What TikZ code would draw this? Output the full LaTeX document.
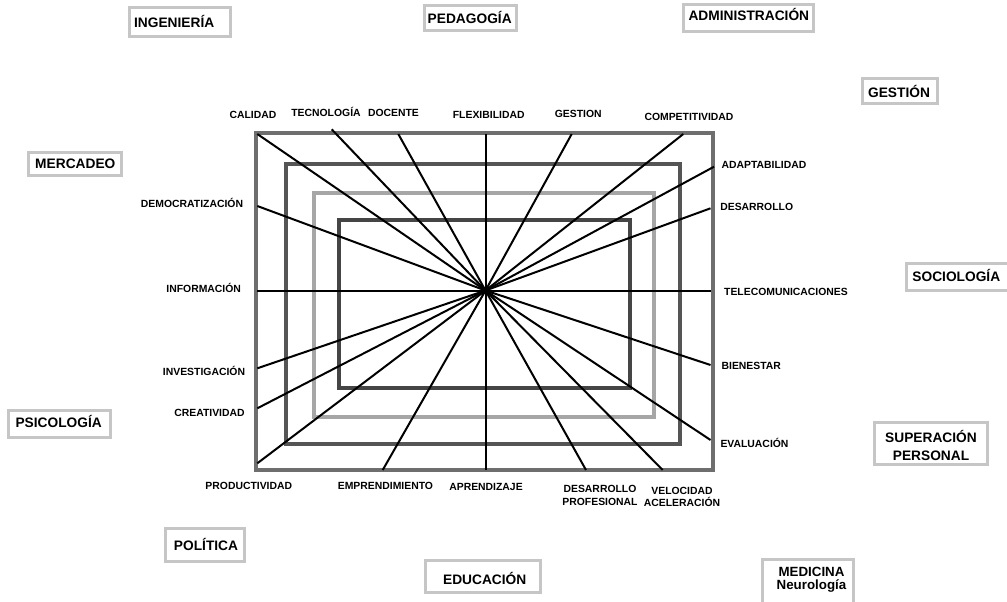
\documentclass[tikz,border=0pt]{standalone}
\usepackage{fontspec}
\setmainfont{Liberation Sans}
\definecolor{frameA}{HTML}{6E6E6E}
\definecolor{frameB}{HTML}{555555}
\definecolor{frameC}{HTML}{A6A6A6}
\definecolor{frameD}{HTML}{454545}
\definecolor{fieldgray}{HTML}{C6C6C6}
\begin{document}
\begin{tikzpicture}[x=0.75pt,y=-0.75pt,
  frame/.style={line width=3pt},
  ray/.style={line width=1.5pt, black},
  lbl/.style={font=\bfseries\fontsize{7.8}{9.3}\selectfont, inner sep=0pt, align=center},
  field/.style={draw=fieldgray, line width=2.25pt},
  fieldtext/.style={font=\bfseries\fontsize{10.3}{12.8}\selectfont, inner sep=0pt, align=center}]
\clip (0,0) rectangle (1007,601);
\fill[white] (0,0) rectangle (1007,601);

% nested frames
\draw[frame, frameA] (255.7,132.7) rectangle (712.5,470);
\draw[frame, frameB] (286,163.5) rectangle (680,444);
\draw[frame, frameC] (313.5,192.7) rectangle (653.5,416.5);
\draw[frame, frameD] (338.7,219.5) rectangle (629.5,387.5);

% hub and ray ends
\coordinate (hub) at (485.5,290.5);
\coordinate (r1) at (257.3,134);
\coordinate (r2) at (331.7,129.3);
\coordinate (r3) at (398.3,134);
\coordinate (r4) at (485.5,134);
\coordinate (r5) at (571.7,134);
\coordinate (r6) at (683.3,134);
\coordinate (r7) at (714,166.7);
\coordinate (r8) at (710.5,208.3);
\coordinate (r9) at (710.5,290.5);
\coordinate (r10) at (710.5,365);
\coordinate (r11) at (710.5,440);
\coordinate (r12) at (662.7,470);
\coordinate (r13) at (586,470);
\coordinate (r14) at (485.5,470);
\coordinate (r15) at (382.7,470);
\coordinate (r16) at (257.3,463.3);
\coordinate (r17) at (257.3,408.3);
\coordinate (r18) at (257.3,368.3);
\coordinate (r19) at (257.3,290.5);
\coordinate (r20) at (257.3,206);
\foreach \i in {1,...,20} \draw[ray] (hub) -- (r\i);

% ray labels
\node[lbl, anchor=base] (calidad) at (253,118.7) {CALIDAD};
\node[lbl, anchor=base] (tecnologia) at (326,116.4) {TECNOLOGÍA};
\node[lbl, anchor=base] (docente) at (393.5,116.7) {DOCENTE};
\node[lbl, anchor=base] (flexibilidad) at (488.7,118.7) {FLEXIBILIDAD};
\node[lbl, anchor=base] (gestion) at (578.3,117.2) {GESTION};
\node[lbl, anchor=base] (competitividad) at (689,120.2) {COMPETITIVIDAD};
\node[lbl, anchor=base] (adaptabilidad) at (764,168.7) {ADAPTABILIDAD};
\node[lbl, anchor=base] (desarrollo) at (756.7,210.4) {DESARROLLO};
\node[lbl, anchor=base] (telecom) at (786,295.4) {TELECOMUNICACIONES};
\node[lbl, anchor=base] (bienestar) at (751.3,369.7) {BIENESTAR};
\node[lbl, anchor=base] (evaluacion) at (754.5,447) {EVALUACIÓN};
\node[lbl, anchor=base] (democratizacion) at (192,207.7) {DEMOCRATIZACIÓN};
\node[lbl, anchor=base] (informacion) at (203.7,292) {INFORMACIÓN};
\node[lbl, anchor=base] (investigacion) at (204,375.4) {INVESTIGACIÓN};
\node[lbl, anchor=base] (creatividad) at (209.5,416) {CREATIVIDAD};
\node[lbl, anchor=base] (productividad) at (248.8,489.4) {PRODUCTIVIDAD};
\node[lbl, anchor=base east] (emprendimiento) at (433.3,489) {EMPRENDIMIENTO};
\node[lbl, anchor=base] (aprendizaje) at (486,490.4) {APRENDIZAJE};
\node[lbl] (desprof) at (600,495.5) {DESARROLLO\\PROFESIONAL};
\node[lbl] (velocidad) at (682,497) {VELOCIDAD\\ACELERACIÓN};

% surrounding fields
\draw[field] (129.8,7.5) rectangle (230.2,36.8);
\node[fieldtext, anchor=base] (ingenieria) at (174.2,27.4) {INGENIERÍA};
\draw[field] (424.2,5.5) rectangle (516.8,30.8);
\node[fieldtext, anchor=base] (pedagogia) at (469.7,23.6) {PEDAGOGÍA};
\draw[field] (683.2,4.2) rectangle (813.5,31.5);
\node[fieldtext, anchor=base west] (administracion) at (688.3,20.2) {ADMINISTRACIÓN};
\draw[field] (862.2,78.8) rectangle (937.2,103.5);
\node[fieldtext, anchor=base] (gestionf) at (899,97.7) {GESTIÓN};
\draw[field] (28.8,152.2) rectangle (121.8,175.8);
\node[fieldtext, anchor=base] (mercadeo) at (75.3,168.7) {MERCADEO};
\draw[field] (8.8,410.8) rectangle (110.2,437.2);
\node[fieldtext, anchor=base] (psicologia) at (58.7,427.2) {PSICOLOGÍA};
\draw[field] (165.8,528.2) rectangle (244.5,561.2);
\node[fieldtext, anchor=base] (politica) at (206,550.2) {POLÍTICA};
\draw[field] (425.8,560.2) rectangle (540.2,592.8);
\node[fieldtext, anchor=base] (educacion) at (484.7,584.9) {EDUCACIÓN};
\draw[field] (906.5,263.8) rectangle (1012,290.2);
\node[fieldtext, anchor=base] (sociologia) at (956.3,281.6) {SOCIOLOGÍA};
\draw[field] (874.8,422.8) rectangle (987.2,464.5);
\node[fieldtext] (superacion) at (931,445.5) {SUPERACIÓN\\PERSONAL};
\draw[field] (762.2,559.8) rectangle (853.5,610);
\node[fieldtext, font=\bfseries\fontsize{10}{9.6}\selectfont] (medicina) at (811.5,579.5) {MEDICINA\\Neurología};
\end{tikzpicture}
\end{document}
